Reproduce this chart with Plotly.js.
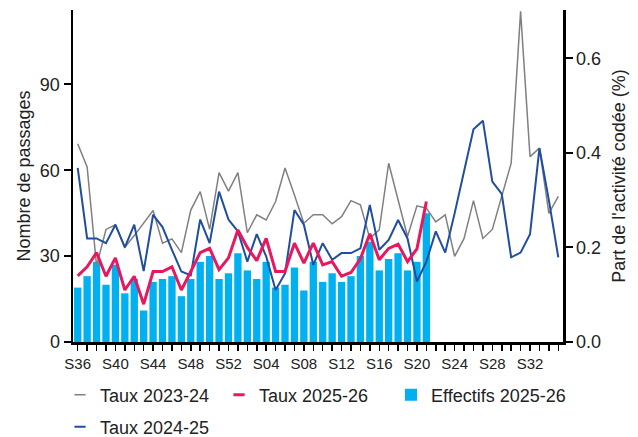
<!DOCTYPE html>
<html>
<head>
<meta charset="utf-8">
<script src="https://cdn.plot.ly/plotly-3.0.1.min.js"></script>
<style>
  html, body { margin: 0; padding: 0; background: #ffffff; }
  #chart { width: 638px; height: 437px; }
</style>
</head>
<body>
<div id="chart"></div>
<script>
// Weeks (S36 .. S52, S01 .. S35)
const weeks = ['S36','S37','S38','S39','S40','S41','S42','S43','S44','S45','S46','S47','S48','S49','S50','S51','S52',
  'S01','S02','S03','S04','S05','S06','S07','S08','S09','S10','S11','S12','S13','S14','S15','S16','S17','S18','S19','S20',
  'S21','S22','S23','S24','S25','S26','S27','S28','S29','S30','S31','S32','S33','S34','S35'];
const tickLabels = ['S36','S40','S44','S48','S52','S04','S08','S12','S16','S20','S24','S28','S32'];

// Effectifs 2025-26 (nombre de passages), S36 .. S21
const effectifs2526 = [19,23,28,20,27,17,22,11,21,22,23,16,22,28,30,22,24,31,25,22,
  28,19,20,26,18,28,21,24,21,23,30,35,25,29,31,25,28,45];

// Taux 2025-26 (%), S36 .. S21
const taux2526 = [0.140,0.159,0.189,0.139,0.178,0.110,0.139,0.080,0.149,0.149,0.159,0.110,0.149,0.189,0.198,0.153,0.178,0.237,0.200,0.172,
  0.219,0.149,0.149,0.209,0.167,0.209,0.163,0.170,0.139,0.147,0.176,0.229,0.174,0.198,0.207,0.170,0.197,0.297];

// Taux 2024-25 (%)
const taux2425 = [0.368,0.219,0.219,0.209,0.248,0.200,0.248,0.150,0.269,0.243,0.195,0.149,0.141,0.259,0.209,0.318,0.259,0.234,
  0.170,0.228,0.181,0.110,0.145,0.279,0.248,0.163,0.209,0.174,
  0.188,0.188,0.198,0.290,0.195,0.216,0.258,0.219,0.128,0.170,0.234,
  0.189,0.272,0.360,0.450,0.468,0.339,0.313,0.179,0.189,0.228,0.410,0.300,0.179];

// Taux 2023-24 (%)
const taux2324 = [0.419,0.370,0.161,0.238,0.248,0.200,0.225,0.252,0.278,0.209,0.218,0.189,0.279,0.318,0.238,0.358,0.319,0.358,
  0.231,0.269,0.258,0.297,0.368,0.311,0.251,0.269,0.269,0.250,
  0.265,0.299,0.290,0.219,0.237,0.378,0.300,0.223,0.288,0.283,0.254,
  0.269,0.181,0.219,0.299,0.219,0.238,0.308,0.378,0.699,0.392,0.410,0.272,0.308];

const C_BAR = '#00B0F0', C_RED = '#E8185E', C_BLUE = '#1F4E9F', C_GRAY = '#808080';
const FONT = 'Arial, "Liberation Sans", sans-serif';

const traces = [
  { type: 'bar', name: 'Effectifs 2025-26', x: weeks.slice(0, effectifs2526.length), y: effectifs2526,
    marker: { color: C_BAR }, yaxis: 'y', showlegend: true, legend: 'legend3', hoverinfo: 'skip' },
  { type: 'scatter', mode: 'lines', name: 'Taux 2023-24', x: weeks, y: taux2324, yaxis: 'y2',
    line: { color: C_GRAY, width: 1.5 }, showlegend: false },
  { type: 'scatter', mode: 'lines', name: 'Taux 2024-25', x: weeks, y: taux2425, yaxis: 'y2',
    line: { color: C_BLUE, width: 2 }, showlegend: false },
  { type: 'scatter', mode: 'lines', name: 'Taux 2025-26', x: weeks.slice(0, taux2526.length), y: taux2526, yaxis: 'y2',
    line: { color: C_RED, width: 3 }, showlegend: false },
  // legend entries
  { type: 'scatter', mode: 'markers', name: 'Taux 2023-24', x: [null], y: [null], yaxis: 'y2',
    marker: { symbol: 'line-ew', size: 8, color: C_GRAY, line: { color: C_GRAY, width: 1.5 } },
    legend: 'legend' },
  { type: 'scatter', mode: 'markers', name: 'Taux 2025-26', x: [null], y: [null], yaxis: 'y2',
    marker: { symbol: 'line-ew', size: 8, color: C_RED, line: { color: C_RED, width: 3 } },
    legend: 'legend2' },
  { type: 'scatter', mode: 'markers', name: 'Taux 2024-25', x: [null], y: [null], yaxis: 'y2',
    marker: { symbol: 'line-ew', size: 8, color: C_BLUE, line: { color: C_BLUE, width: 2 } },
    legend: 'legend4' }
];

function leg(x, y) {
  return {
    x: x, y: y, orientation: 'h', xanchor: 'left', yanchor: 'middle',
    font: { family: FONT, size: 18, color: '#222' },
    bgcolor: 'rgba(0,0,0,0)', itemclick: false, itemdoubleclick: false
  };
}

const layout = {
  width: 638, height: 437,
  margin: { l: 73, r: 75, t: 10, b: 95, pad: 0, autoexpand: false },
  paper_bgcolor: '#ffffff', plot_bgcolor: '#ffffff',
  font: { family: FONT, color: '#222' },
  bargap: 0.22,
  showlegend: true,
  xaxis: {
    type: 'category', categoryorder: 'array', categoryarray: weeks,
    range: [-0.5, weeks.length - 0.5],
    tickmode: 'array', tickvals: weeks,
    ticktext: weeks.map(w => tickLabels.includes(w) ? w : ''),
    ticks: 'outside', ticklen: 6, tickwidth: 1.5, tickcolor: '#000',
    showline: true, linecolor: '#000', linewidth: 2.5,
    showgrid: false, zeroline: false, automargin: false,
    tickfont: { family: FONT, size: 15, color: '#222' },
    tickangle: 0
  },
  yaxis: {
    range: [0, 115.96], tickvals: [0, 30, 60, 90],
    ticks: 'outside', ticklen: 7, tickwidth: 2, tickcolor: '#000',
    showline: true, linecolor: '#000', linewidth: 2.5,
    showgrid: false, zeroline: false, automargin: false,
    tickfont: { family: FONT, size: 18, color: '#222' },
    title: { text: 'Nombre de passages', font: { family: FONT, size: 18, color: '#222' }, standoff: 5 }
  },
  yaxis2: {
    overlaying: 'y', side: 'right',
    range: [0, 0.702], tickvals: [0, 0.2, 0.4, 0.6], tickformat: '.1f',
    ticks: 'outside', ticklen: 7, tickwidth: 2, tickcolor: '#000',
    showline: true, linecolor: '#000', linewidth: 2.5,
    showgrid: false, zeroline: false, automargin: false,
    tickfont: { family: FONT, size: 18, color: '#222' },
    title: { text: "Part de l'activité codée (%)", font: { family: FONT, size: 18, color: '#222' }, standoff: 13 }
  },
  legend: leg(-0.0265, -0.160),
  legend2: leg(0.298, -0.160),
  legend3: leg(0.649, -0.160),
  legend4: leg(-0.0265, -0.256)
};

Plotly.newPlot('chart', traces, layout, { staticPlot: true, displayModeBar: false });
</script>
</body>
</html>
